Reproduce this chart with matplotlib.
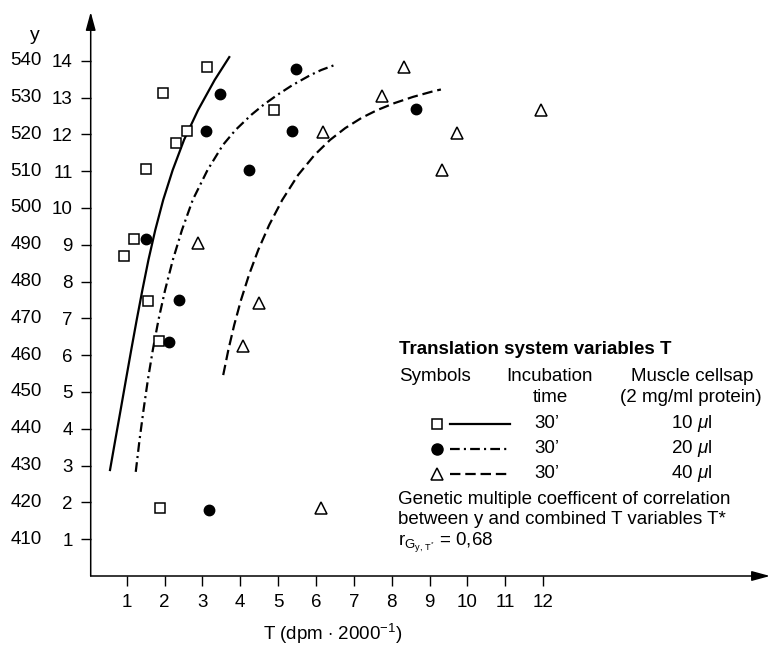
import matplotlib
matplotlib.use("Agg")
import matplotlib.pyplot as plt
from matplotlib.lines import Line2D
from matplotlib import transforms

plt.rcParams['font.family'] = ['Liberation Sans', 'DejaVu Sans']
plt.rcParams['mathtext.fontset'] = 'custom'
plt.rcParams['mathtext.rm'] = 'Liberation Sans'
plt.rcParams['mathtext.it'] = 'Liberation Sans:italic'
plt.rcParams['mathtext.bf'] = 'Liberation Sans:bold'
plt.rcParams['lines.scale_dashes'] = False

# data (x = T, y = right-hand scale 1..14)
sq_x = [3.13, 1.95, 4.89, 2.60, 2.30, 1.52, 1.19, 0.92, 1.57, 1.86, 1.88]
sq_y = [13.82, 13.13, 12.66, 12.09, 11.77, 11.06, 9.16, 8.69, 7.46, 6.39, 1.84]

ci_x = [5.47, 3.46, 3.09, 5.36, 4.22, 1.50, 2.39, 2.13, 8.63, 3.17]
ci_y = [13.78, 13.10, 12.09, 12.09, 11.04, 9.16, 7.50, 6.36, 12.68, 1.79]

tr_x = [8.33, 7.74, 6.18, 2.88, 4.50, 4.08, 9.72, 9.32, 11.94, 6.13]
tr_y = [13.82, 13.03, 12.07, 9.06, 7.41, 6.26, 12.03, 11.03, 12.66, 1.85]

# fitted curves
solid_x = [0.56, 0.70, 0.84, 0.98, 1.12, 1.265, 1.415, 1.575, 1.755, 1.965, 2.215, 2.515,
           2.885, 3.325, 3.71]
solid_y = [2.88, 3.70, 4.51, 5.33, 6.14, 6.96, 7.77, 8.59, 9.40, 10.22, 11.03, 11.85,
           12.66, 13.48, 14.10]

dashdot_x = [1.24, 1.34, 1.445, 1.56, 1.69, 1.84, 2.015, 2.22, 2.46, 2.745, 3.135, 3.54,
             3.875, 4.29, 4.61, 4.975, 5.38, 5.85, 6.14, 6.48]
dashdot_y = [2.83, 3.70, 4.51, 5.33, 6.14, 6.96, 7.77, 8.59, 9.40, 10.22, 11.03, 11.71,
             12.12, 12.53, 12.80, 13.07, 13.34, 13.61, 13.75, 13.88]

dashed_x = [3.55, 3.685, 3.84, 4.02, 4.23, 4.475, 4.765, 5.11, 5.53, 5.962, 6.372, 6.772,
            7.206, 7.616, 8.072, 8.565, 9.125, 9.30]
dashed_y = [5.46, 6.14, 6.82, 7.50, 8.18, 8.86, 9.54, 10.22, 10.90, 11.44, 11.85, 12.17,
            12.45, 12.66, 12.85, 13.02, 13.18, 13.22]

x_ticks = list(range(1, 13))
y_ticks = list(range(1, 15))
y_ticks_left = [str(400 + 10 * v) for v in y_ticks]

legend_times = ["30\u2019", "30\u2019", "30\u2019"]
legend_sap = [r"10 $\mu$l", r"20 $\mu$l", r"40 $\mu$l"]

FS = 13.5
W, H = 770, 645
fig = plt.figure(figsize=(W / 100, H / 100), dpi=100)
ax = fig.add_axes([90.7 / W, (H - 576) / H, (W - 90.7) / W, (576 - 12) / H])
ax.set_xlim(0.05, 0.05 + (W - 90.7) / 37.86)
ax.set_ylim(0, (576 - 12) / 36.8)

for s in ax.spines.values():
    s.set_visible(False)

arrow = dict(arrowstyle='-|>,head_length=1.1,head_width=0.3', lw=1.1, color='k',
             shrinkA=0, shrinkB=0, mutation_scale=10)
ax.annotate('', xy=(1, 0), xytext=(0, 0), xycoords='axes fraction', arrowprops=arrow)
ax.annotate('', xy=(0, 1), xytext=(0, 0), xycoords='axes fraction', arrowprops=arrow)

ax.set_xticks(x_ticks)
ax.set_yticks(y_ticks)
ax.tick_params(direction='out', length=7, width=1.0, labelsize=FS, pad=6)

trans = transforms.blended_transform_factory(fig.transFigure, ax.transData)
for v, lab in zip(y_ticks, y_ticks_left):
    ax.text(42 / W, v, lab, transform=trans, ha='right', va='center', fontsize=FS)

# curves
ax.plot(solid_x, solid_y, color='k', lw=1.6, ls='-')
ax.plot(dashdot_x, dashdot_y, color='k', lw=1.6, ls=(0, (7, 3, 1.5, 3)))
ax.plot(dashed_x, dashed_y, color='k', lw=1.6, ls=(0, (7.5, 3.5)))

# points
ax.plot(sq_x, sq_y, 's', ms=6.5, mfc='white', mec='k', mew=1.1, clip_on=False)
ax.plot(ci_x, ci_y, 'o', ms=7.5, mfc='k', mec='k', clip_on=False)
ax.plot(tr_x, tr_y, '^', ms=8, mfc='white', mec='k', mew=1.1, clip_on=False)


def fx(X):
    return X / W


def fy(Y):
    return 1 - Y / H


fig.text(fx(35), fy(35), "y", ha='center', va='center', fontsize=FS + 0.5)
fig.text(fx(263), fy(640), r"T (dpm $\cdot$ 2000$^{-1}$)", ha='left', va='baseline', fontsize=FS)

# legend block
fig.text(fx(399), fy(350), "Translation system variables T", ha='left', va='center',
         fontsize=FS, fontweight='bold')
fig.text(fx(399), fy(377), "Symbols", ha='left', va='center', fontsize=FS)
fig.text(fx(549), fy(377), "Incubation", ha='center', va='center', fontsize=FS)
fig.text(fx(550), fy(397), "time", ha='center', va='center', fontsize=FS)
fig.text(fx(692), fy(377), "Muscle cellsap", ha='center', va='center', fontsize=FS)
fig.text(fx(691), fy(397), "(2 mg/ml protein)", ha='center', va='center', fontsize=FS)

row_y = [424, 448.5, 473.5]
row_style = [
    dict(marker='s', ms=7, mfc='white', mew=1.1, ls='-'),
    dict(marker='o', ms=8, mfc='k', mew=1.0, ls=(0, (7, 3, 1.5, 3))),
    dict(marker='^', ms=8, mfc='white', mew=1.1, ls=(0, (7.5, 3.5))),
]
for Y, st, t, sap in zip(row_y, row_style, legend_times, legend_sap):
    fig.add_artist(Line2D([fx(437)], [fy(Y)], transform=fig.transFigure, marker=st['marker'],
                          ms=st['ms'], mfc=st['mfc'], mec='k', mew=st['mew'], ls='none'))
    fig.add_artist(Line2D([fx(450), fx(510)], [fy(Y), fy(Y)], transform=fig.transFigure,
                          color='k', lw=1.6, ls=st['ls']))
    fig.text(fx(547), fy(Y), t, ha='center', va='center', fontsize=FS)
    fig.text(fx(692), fy(Y), sap, ha='center', va='center', fontsize=FS)

fig.text(fx(398), fy(500), "Genetic multiple coefficent of correlation", ha='left', va='center', fontsize=FS)
fig.text(fx(398), fy(520), "between y and combined T variables T*", ha='left', va='center', fontsize=FS)
fig.text(fx(398), fy(543), r"$\mathrm{r}_{\mathrm{G}_{\mathrm{y,\,T^{*}}}}$ = 0,68", ha='left', va='center', fontsize=FS)

fig.savefig("out.png", dpi=100)
